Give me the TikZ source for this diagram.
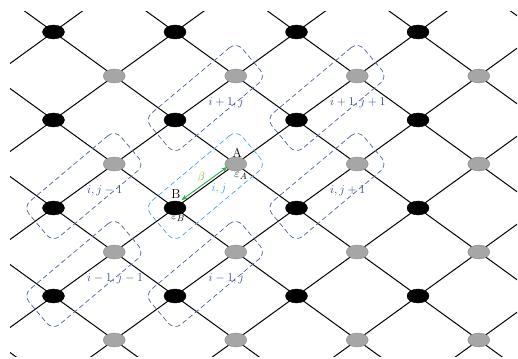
\documentclass[tikz,border=0pt]{standalone}
\usetikzlibrary{calc,positioning,arrows.meta,shapes.geometric}
\definecolor{cellblue}{RGB}{72,98,152}
\definecolor{labelblue}{RGB}{45,72,135}
\definecolor{ijblue}{RGB}{75,165,225}
\definecolor{ijtext}{RGB}{35,170,225}
\definecolor{arrowgreen}{RGB}{40,175,80}
\definecolor{betagreen}{RGB}{115,175,25}
\definecolor{sitegray}{RGB}{166,166,166}
\tikzset{
  blacksite/.style={ellipse,draw=black,fill=black,minimum width=22pt,minimum height=14pt,inner sep=0pt},
  graysite/.style={ellipse,draw=black!45,fill=sitegray,minimum width=22pt,minimum height=14pt,inner sep=0pt},
  bond/.style={line width=1pt},
  cell/.style={draw=cellblue,dash pattern=on 5pt off 3pt,line width=0.7pt,rounded corners=9pt,minimum width=120pt,minimum height=46pt,rotate=40},
  celllabel/.style={text=labelblue,anchor=west,inner sep=0pt,font=\fontsize{12.5}{14}\selectfont},
  sitelabel/.style={inner sep=0pt,font=\fontsize{13}{15}\selectfont},
}
\begin{document}
\begin{tikzpicture}[x=1pt,y=-1pt]
\useasboundingbox (0,0) rectangle (518,358);
% lattice points, one ring more than shown
\foreach \i in {0,...,9}{
  \foreach \j in {0,...,9}{
    \pgfmathtruncatemacro\pty{mod(\i+\j,2)}
    \ifnum\pty=0
      \coordinate (p\i-\j) at ({53.5+60.75*(\i-1)},{32+44*(\j-1)});
    \fi
  }
}
% bonds
\begin{scope}
\clip (10,12) rectangle (517,356);
\foreach \i in {0,...,8}{
  \foreach \j in {0,...,9}{
    \pgfmathtruncatemacro\pty{mod(\i+\j,2)}
    \pgfmathtruncatemacro\iplus{\i+1}
    \pgfmathtruncatemacro\jminus{\j-1}
    \pgfmathtruncatemacro\jplus{\j+1}
    \ifnum\pty=0
      \ifnum\j>0 \draw[bond] (p\i-\j) -- (p\iplus-\jminus); \fi
      \ifnum\j<9 \draw[bond] (p\i-\j) -- (p\iplus-\jplus); \fi
    \fi
  }
}
\end{scope}
% sites
\foreach \i in {1,...,8}{
  \foreach \j in {1,...,8}{
    \pgfmathtruncatemacro\pty{mod(\i+\j,2)}
    \ifnum\pty=0
      \ifodd\j \node[blacksite] (n\i-\j) at (p\i-\j) {};
      \else \node[graysite] (n\i-\j) at (p\i-\j) {};
      \fi
    \fi
  }
}
% neighbouring cells
\foreach \bk/\gy/\txt in {n3-3/n4-2/{i+1,j}, n5-3/n6-2/{i+1,j+1}, n1-5/n2-4/{i,j-1},
    n5-5/n6-4/{i,j+1}, n1-7/n2-6/{i-1,j-1}, n3-7/n4-6/{i-1,j}}{
  \node[cell] (c\bk) at ($(\bk)!0.5!(\gy)$) {};
  \node[celllabel] (t\bk) at ($(\bk)!0.5!(\gy)+(3,5)$) {$\txt$};
}
% cell i,j with sites A and B
\node[cell,draw=ijblue] (cij) at ($(n3-5)!0.5!(n4-4)$) {};
\node[celllabel,text=ijtext] (tij) at ($(n3-5)!0.5!(n4-4)+(6,3)$) {$i,j$};
\draw[<->,>={Stealth[length=6pt,width=4.5pt]},arrowgreen,line width=0.9pt,
  transform canvas={shift={(-1pt,2.5pt)}}] (n3-5) -- (n4-4);
\node[sitelabel,text=betagreen] (beta) at ($(n3-5)!0.5!(n4-4)+(-4,-9)$) {$\beta$};
\node[sitelabel] (lblA) at ($(n4-4)+(1.5,-11.5)$) {A};
\node[sitelabel] (lblB) at ($(n3-5)+(1,-13.5)$) {B};
\node[sitelabel] (epsA) at ($(n4-4)+(5,12)$) {$\varepsilon_A$};
\node[sitelabel] (epsB) at ($(n3-5)+(3,10)$) {$\varepsilon_B$};
\end{tikzpicture}
\end{document}
